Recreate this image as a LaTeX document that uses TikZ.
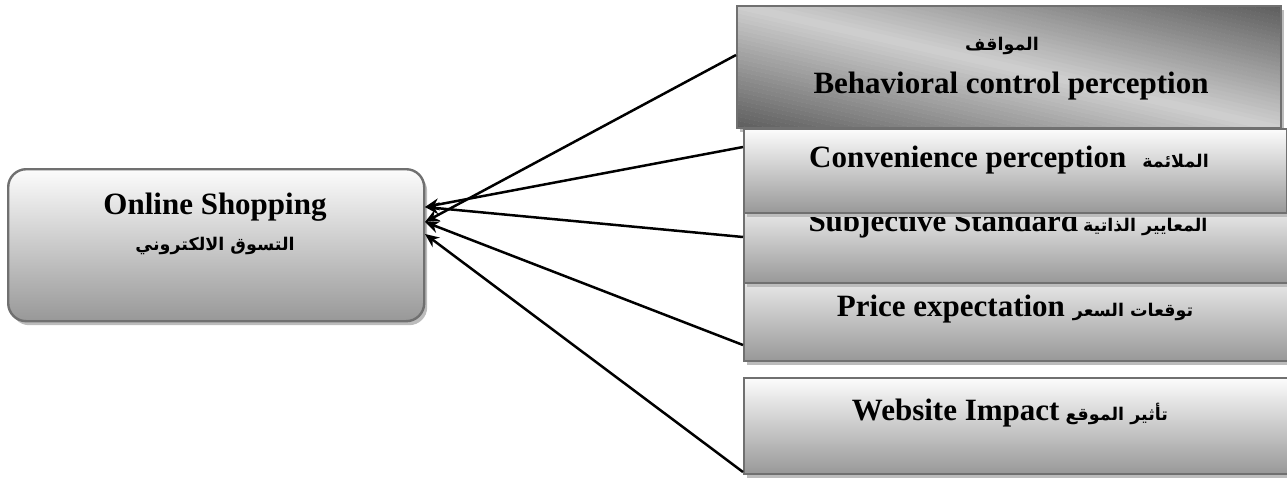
\documentclass[tikz,border=0pt]{standalone}
\usepackage{fontspec}
\setmainfont{Liberation Serif}
\newfontfamily\arabicfont[Script=Arabic]{DejaVu Sans}
\TeXXeTstate=1
\usetikzlibrary{shadows,arrows.meta,calc}
\definecolor{bordergray}{HTML}{707070}
\definecolor{gtop}{HTML}{FCFCFC}
\definecolor{gbot}{HTML}{989898}
\definecolor{shadowgray}{HTML}{BCBCBC}
\definecolor{darkg}{HTML}{5C5C5C}
\definecolor{lightg}{HTML}{D0D0D0}
\newcommand{\ar}[1]{{\arabicfont\bfseries\fontsize{17.5}{21}\selectfont\beginR #1\endR}}
\begin{document}
\begin{tikzpicture}[x=1pt,y=-1pt,
  boxshadow/.style={drop shadow={shadow xshift=3pt,shadow yshift=-4pt,fill=shadowgray,opacity=1}},
  gbox/.style={draw=bordergray, line width=2.4pt, top color=gtop, bottom color=gbot,
    boxshadow, inner sep=0pt, anchor=north west},
  dbox/.style={draw=bordergray, line width=2.4pt, fill=lightg, boxshadow, inner sep=0pt,
    anchor=north west,
    path picture={
      \foreach \i in {0,...,59}{
        \pgfmathsetmacro{\wa}{-2+\i*4/60}
        \pgfmathsetmacro{\wb}{\wa+4/60*1.08}
        \pgfmathsetmacro{\pc}{100*abs(\wa+2/60)/2}
        \fill[darkg!\pc!lightg] ($(path picture bounding box.center)+(272*\wa-272,-62)$)
          -- ($(path picture bounding box.center)+(272*\wb-272,-62)$)
          -- ($(path picture bounding box.center)+(272*\wb+272,62)$)
          -- ($(path picture bounding box.center)+(272*\wa+272,62)$) -- cycle;
      }
    }},
  en/.style={font=\bfseries\fontsize{31}{34}\selectfont, inner sep=0pt},
  arr/.style={line width=2.5pt, -{Stealth[length=14pt,width=12pt]}}
]
\useasboundingbox (0,0) rectangle (1287,477);

% main box
\node[gbox, rounded corners=18pt, minimum width=416pt, minimum height=152pt] (online) at (7,168) {};
\node[en] (onlinet) at (215,207) {Online Shopping};
\node[inner sep=0pt] (onlinea) at (215,246) {\ar{التسوق الالكتروني}};

% right boxes
\node[dbox, minimum width=544pt, minimum height=122pt] (behav) at (736,5) {};
\node[inner sep=0pt] (behava) at (1002,46) {\ar{المواقف}};
\node[en] (behavt) at (1011,86) {Behavioral control perception};

\node[gbox, minimum width=548pt, minimum height=100pt] (price) at (743,260) {};
\node[en, anchor=base] (pricet) at (1015,316) {Price expectation\hspace{8pt}\ar{توقعات السعر}};

\node[gbox, minimum width=548pt, minimum height=90pt] (subj) at (743,192) {};
\node[en, anchor=base] (subjt) at (1008,231) {Subjective Standard\hspace{5pt}\ar{المعايير الذاتية}};

\node[gbox, minimum width=543pt, minimum height=84pt] (conv) at (743,128) {};
\node[en, anchor=base] (convt) at (1009,167) {Convenience perception\hspace{16pt}\ar{الملائمة}};

\node[gbox, minimum width=548pt, minimum height=96pt] (web) at (743,377) {};
\node[en, anchor=base] (webt) at (1010,420) {Website Impact\hspace{6pt}\ar{تأثير الموقع}};

% connector end points
\coordinate (s1) at (736,55);
\coordinate (s2) at (743,147);
\coordinate (s3) at (743,237);
\coordinate (s4) at (743,345);
\coordinate (s5) at (743,472);
\coordinate (e1) at (425,222);
\coordinate (e2) at (425,207);
\coordinate (e3) at (425,207);
\coordinate (e4) at (425,222);
\coordinate (e5) at (425,234);

\draw[arr] (s1) -- (e1);
\draw[arr] (s2) -- (e2);
\draw[arr] (s3) -- (e3);
\draw[arr] (s4) -- (e4);
\draw[arr] (s5) -- (e5);
\end{tikzpicture}
\end{document}
